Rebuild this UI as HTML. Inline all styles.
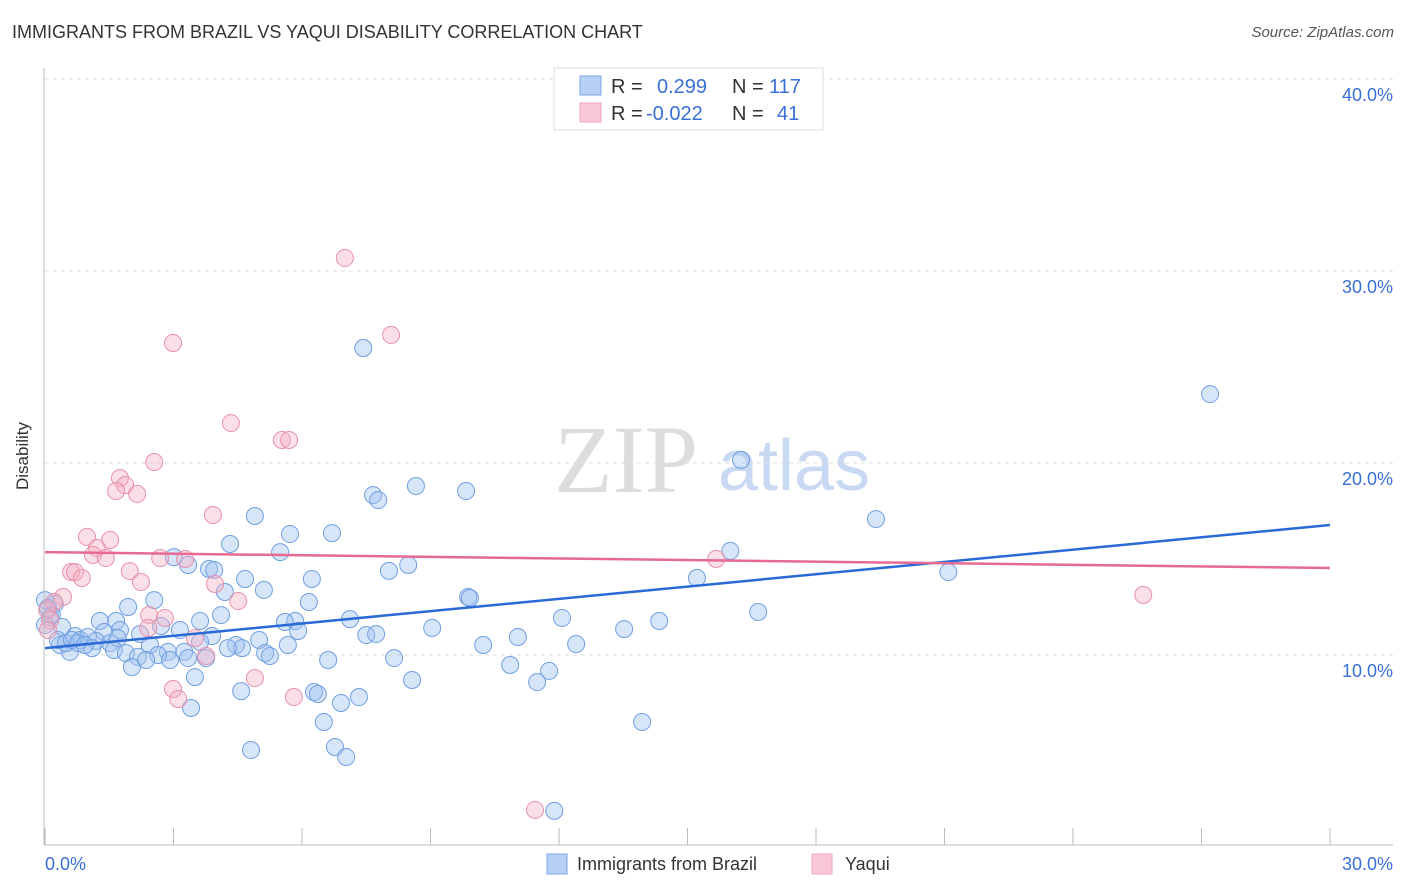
<!DOCTYPE html>
<html><head><meta charset="utf-8">
<style>
body{margin:0;background:#fff;font-family:"Liberation Sans",sans-serif;}
#wrap{position:relative;width:1406px;height:892px;overflow:hidden;}
.t{position:absolute;white-space:nowrap;}
</style></head>
<body>
<div id="wrap">
<div class="t" style="left:12px;top:22px;font-size:18px;color:#333;">IMMIGRANTS FROM BRAZIL VS YAQUI DISABILITY CORRELATION CHART</div>
<div class="t" style="right:12px;top:24px;font-size:15px;color:#555;font-style:italic;">Source: ZipAtlas.com</div>
<svg id="svg" width="1406" height="892" style="position:absolute;left:0;top:0">
<text x="554" y="492" font-family="Liberation Serif,serif" font-size="96" fill="#ddd">ZIP</text>
<text x="718" y="490" font-family="Liberation Sans,sans-serif" font-size="72" fill="#c9d9f3">atlas</text>
<g id="grid"></g><g id="pts"></g><g id="lines"></g>
<line x1="44" y1="68" x2="44" y2="845" stroke="#bbb"/>
<line x1="44" y1="845" x2="1393" y2="845" stroke="#bbb"/>
<text x="28" y="456" transform="rotate(-90 28 456)" text-anchor="middle" font-size="17" fill="#333">Disability</text>
<text x="45" y="870" font-size="18" fill="#3a6fd8">0.0%</text>
<text x="1393" y="870" text-anchor="end" font-size="18" fill="#3a6fd8">30.0%</text>
<g>
<rect x="554" y="68" width="269" height="62" fill="#fff" stroke="#ddd"/>
<rect x="580" y="76" width="21" height="19" fill="#b8d0f4" stroke="#7fa6e6"/>
<rect x="580" y="103" width="21" height="19" fill="#f9c8d6" stroke="#eea3ba"/>
<text x="611" y="93" font-size="20" fill="#333">R =</text><text x="657" y="93" font-size="20" fill="#3a6fd8">0.299</text>
<text x="732" y="93" font-size="20" fill="#333">N =</text><text x="769" y="93" font-size="20" fill="#3a6fd8">117</text>
<text x="611" y="120" font-size="20" fill="#333">R =</text><text x="646" y="120" font-size="20" fill="#3a6fd8">-0.022</text>
<text x="732" y="120" font-size="20" fill="#333">N =</text><text x="777" y="120" font-size="20" fill="#3a6fd8">41</text>
</g>
<g>
<rect x="547" y="854" width="20" height="20" fill="#b8d0f4" stroke="#7fa6e6"/>
<text x="577" y="870" font-size="18" fill="#333">Immigrants from Brazil</text>
<rect x="812" y="854" width="20" height="20" fill="#f9c8d6" stroke="#eea3ba"/>
<text x="845" y="870" font-size="18" fill="#333">Yaqui</text>
</g>
</svg>
</div>
<script>
const yTicks=[10,20,30,40];
const yTickLabels=["10.0%","20.0%","30.0%","40.0%"];
const xTicks=[0,3,6,9,12,15,18,21,24,27,30];
const brazilX=[7.43,27.2,16.25,7.66,7.78,8.66,9.83,19.4,4.9,6.7,5.72,4.32,5.49,16.0,3.01,3.34,3.83,3.95,8.03,8.48,4.67,6.23,15.22,21.09,5.11,4.2,1.94,2.55,6.16,9.88,9.92,4.11,7.12,12.07,14.34,16.65,13.52,9.04,5.84,5.6,3.62,2.71,1.66,1.28,1.75,1.38,2.22,3.9,3.15,5.91,7.5,7.73,11.04,12.4,10.23,0.23,0.12,0.4,0.7,0.82,1.0,1.19,1.52,1.7,1.1,0.35,0.58,1.61,1.89,2.45,2.87,3.25,3.62,4.46,4.6,5.0,5.67,4.27,5.14,5.25,2.17,2.64,2.92,3.34,3.76,2.03,2.36,6.61,8.15,10.86,11.77,3.5,4.58,6.28,6.37,7.33,6.91,8.57,11.49,3.41,6.51,13.94,4.81,6.77,7.03,11.89,0.3,0.49,0.63,0.0,0.07,0.16,0.0,0.77,0.93];
const brazilY=[25.99,23.59,20.16,18.33,18.07,18.8,18.54,17.08,17.24,16.35,16.3,15.78,15.36,15.42,15.1,14.69,14.48,14.43,14.38,14.69,13.96,13.96,14.01,14.32,13.39,13.28,12.5,12.86,12.76,13.02,12.97,12.08,11.87,11.93,11.77,12.24,11.35,11.41,11.77,11.72,11.77,11.51,11.77,11.77,11.3,11.2,11.09,10.99,11.3,11.25,11.04,11.09,10.94,10.57,10.52,12.66,11.98,11.46,10.99,10.78,10.94,10.73,10.62,10.88,10.36,10.52,10.16,10.26,10.1,10.52,10.16,10.16,10.68,10.52,10.36,10.78,10.52,10.36,10.1,9.95,9.9,10.0,9.74,9.84,9.84,9.37,9.74,9.74,9.84,9.48,9.17,8.85,8.12,8.07,7.97,7.81,7.5,8.7,8.59,7.24,6.51,6.51,5.05,5.21,4.69,1.88,10.78,10.62,10.78,12.86,12.45,12.08,11.56,10.62,10.52];
const yaquiX=[7.0,8.08,2.99,4.34,5.53,5.7,2.55,1.75,1.87,1.66,2.15,3.92,0.98,1.52,1.21,1.12,1.42,2.69,3.27,0.61,0.7,0.86,1.98,2.24,3.97,4.51,0.42,0.21,0.05,2.43,2.8,3.5,2.41,3.76,4.9,2.99,3.11,5.81,11.44,25.64,15.67,0.12,0.07];
const yaquiY=[30.68,26.67,26.25,22.08,21.2,21.2,20.05,19.22,18.85,18.54,18.39,17.29,16.15,15.99,15.57,15.21,15.05,15.05,15.0,14.32,14.32,14.01,14.37,13.8,13.7,12.81,13.02,12.76,12.34,12.08,11.93,10.88,11.41,9.95,8.8,8.23,7.71,7.81,1.93,13.13,15.0,11.82,11.3];
const brazilTrend=[10.36,16.77];
const yaquiTrend=[15.36,14.53];
const NS="http://www.w3.org/2000/svg";
function sx(v){return 45+v/30*1285;}
function sy(v){return 847-v*19.2;}
function mk(t,a,p){const e=document.createElementNS(NS,t);for(const k in a)e.setAttribute(k,a[k]);p.appendChild(e);return e;}
const grid=document.getElementById('grid');
yTicks.forEach((v,i)=>{
 const l=mk('line',{x1:45,x2:1393,y1:sy(v),y2:sy(v),stroke:'#ddd','stroke-dasharray':'4,4'},grid);
 
 
 const t=mk('text',{x:1393,y:sy(v)+22,'text-anchor':'end','font-size':18,fill:'#3a6fd8'},grid);
 t.textContent=yTickLabels[i];
 
 
});
xTicks.forEach(v=>{
 const l=mk('line',{x1:sx(v),x2:sx(v),y1:828,y2:845,stroke:'#bbb'},grid);
 
 
});
const pts=document.getElementById('pts');
brazilX.forEach((x,i)=>{
 const c=mk('circle',{cx:sx(x),cy:sy(brazilY[i]),r:8.5,fill:'rgba(160,192,240,0.42)',stroke:'#6f9fe0','stroke-width':1},pts);
 
 
});
yaquiX.forEach((x,i)=>{
 const c=mk('circle',{cx:sx(x),cy:sy(yaquiY[i]),r:8.5,fill:'rgba(246,176,196,0.4)',stroke:'#e890aa','stroke-width':1},pts);
 
 
});
const lines=document.getElementById('lines');
const b=mk('line',{x1:sx(0),y1:sy(brazilTrend[0]),x2:sx(30),y2:sy(brazilTrend[1]),stroke:'#2a6ad6','stroke-width':2.5},lines);


const y=mk('line',{x1:sx(0),y1:sy(yaquiTrend[0]),x2:sx(30),y2:sy(yaquiTrend[1]),stroke:'#e66a93','stroke-width':2.5},lines);


</script>
</body></html>
